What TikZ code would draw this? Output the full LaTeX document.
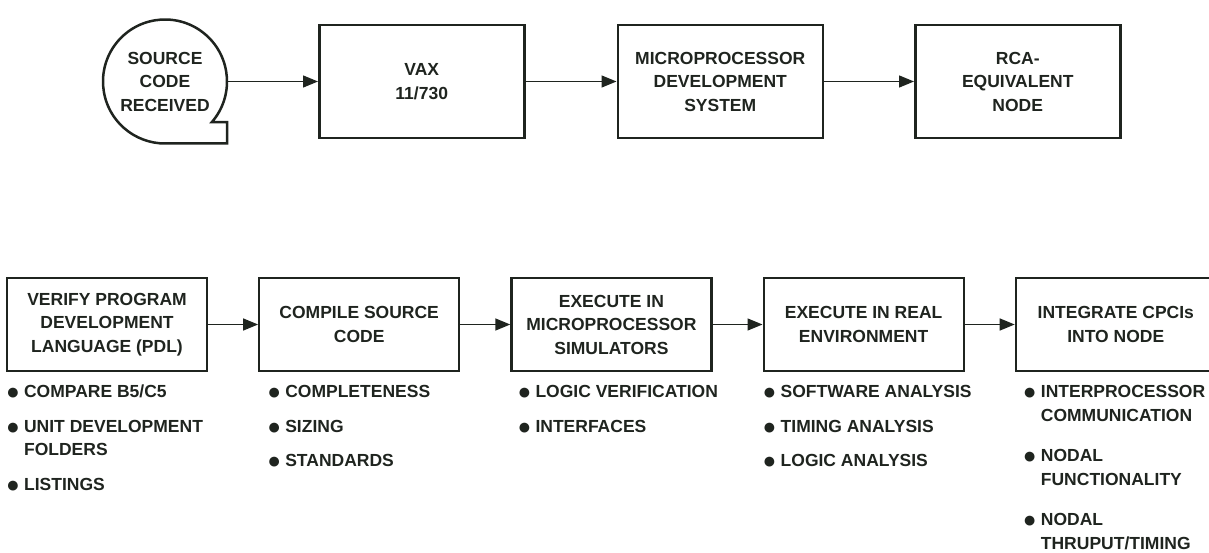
\documentclass[tikz,border=0pt]{standalone}
\usepackage{fontspec}
\setmainfont{Liberation Sans}
\usetikzlibrary{arrows.meta,positioning}
\definecolor{ink}{HTML}{1F241F}
\newcommand{\bul}{\makebox[18pt][l]{\raisebox{-2pt}{\scalebox{1.3}{●}}}}
\newcommand{\gap}{\hspace*{18pt}}

\begin{document}
\begin{tikzpicture}[
    x=1pt, y=1pt,
    txt/.style={font=\bfseries\fontsize{17.5}{23.5}\selectfont, text=ink},
    topbox/.style={rectangle, draw=ink, line width=2.5pt, minimum width=205pt,
                   minimum height=113pt, align=center, txt},
    procbox/.style={rectangle, draw=ink, line width=2.2pt, minimum width=200pt,
                    minimum height=93pt, align=center, txt},
    tape/.style={circle, minimum size=124pt, inner sep=0pt, outer sep=0pt,
                 align=center, txt},
    notes/.style={anchor=north west, inner sep=0pt, align=left, txt},
    arr/.style={-{Triangle[length=15pt,width=12pt]}, line width=1.4pt, draw=ink},
]
\useasboundingbox (0,0) rectangle (1209,-553);

% Top row: where the source code goes
\node[tape] (src) at (165,-81.5) {SOURCE\\CODE\\RECEIVED};
\draw[ink, line width=2.5pt] (src.-41) arc[start angle=-41, end angle=270, radius=62pt]
    -- (src.south -| src.east) -- ++(0,21.3) -- cycle;

\node[topbox, right=91pt of src] (vax) {VAX\\11/730};
\node[topbox, right=91pt of vax] (mds) {MICROPROCESSOR\\DEVELOPMENT\\SYSTEM};
\node[topbox, right=90pt of mds] (rca) {RCA-\\EQUIVALENT\\NODE};

% Bottom row: test steps
\node[procbox] (pdl) at (107,-324.5) {VERIFY PROGRAM\\DEVELOPMENT\\LANGUAGE (PDL)};
\node[procbox, right=50pt of pdl] (comp) {COMPILE SOURCE\\CODE};
\node[procbox, right=50pt of comp] (sim) {EXECUTE IN\\MICROPROCESSOR\\SIMULATORS};
\node[procbox, right=50pt of sim] (real) {EXECUTE IN REAL\\ENVIRONMENT};
\node[procbox, right=50pt of real] (integ) {INTEGRATE CPCIs\\INTO NODE};

% Check lists under the steps
\node[notes] (pdlnotes) at ([yshift=-13pt]pdl.south west)
    {\bul COMPARE B5/C5\\[11pt]\bul UNIT DEVELOPMENT\\\gap FOLDERS\\[11pt]\bul LISTINGS};
\node[notes] (compnotes) at ([xshift=9pt,yshift=-13pt]comp.south west)
    {\bul COMPLETENESS\\[11pt]\bul SIZING\\[11pt]\bul STANDARDS};
\node[notes] (simnotes) at ([xshift=7pt,yshift=-13pt]sim.south west)
    {\bul LOGIC VERIFICATION\\[11pt]\bul INTERFACES};
\node[notes] (realnotes) at ([yshift=-13pt]real.south west)
    {\bul SOFTWARE ANALYSIS\\[11pt]\bul TIMING ANALYSIS\\[11pt]\bul LOGIC ANALYSIS};
\node[notes] (integnotes) at ([xshift=8pt,yshift=-13pt]integ.south west)
    {\bul INTERPROCESSOR\\\gap COMMUNICATION\\[17pt]\bul NODAL\\\gap FUNCTIONALITY\\[17pt]\bul NODAL\\\gap THRUPUT/TIMING};

% Arrows
\draw[arr] (src.east) -- (vax.west);
\draw[arr] (vax) -- (mds);
\draw[arr] (mds) -- (rca);
\draw[arr] (pdl) -- (comp);
\draw[arr] (comp) -- (sim);
\draw[arr] (sim) -- (real);
\draw[arr] (real) -- (integ);

\end{tikzpicture}
\end{document}
